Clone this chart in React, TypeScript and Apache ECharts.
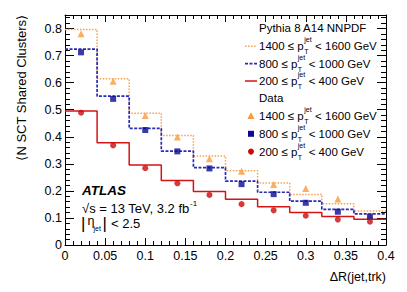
import React, { useEffect, useRef } from "react";
import * as echarts from "echarts";

// ---- data ----
const binLow = [0, 0.04, 0.08, 0.12, 0.16, 0.2, 0.24, 0.28, 0.32, 0.36];
const binHighEdge = 0.4;
const binCenters = [0.02, 0.06, 0.1, 0.14, 0.18, 0.22, 0.26, 0.3, 0.34, 0.38];

// Pythia 8 A14 NNPDF (histograms)
const mc1400 = [0.796, 0.614, 0.487, 0.405, 0.329, 0.274, 0.229, 0.187, 0.152, 0.126];
const mc800 = [0.724, 0.55, 0.431, 0.347, 0.286, 0.236, 0.195, 0.162, 0.132, 0.115];
const mc200 = [0.495, 0.378, 0.296, 0.238, 0.198, 0.169, 0.141, 0.12, 0.105, 0.095];

// Data (markers)
const data1400 = [0.781, 0.605, 0.479, 0.399, 0.319, 0.273, 0.224, 0.209, 0.17, 0.108];
const data800 = [0.712, 0.54, 0.425, 0.346, 0.283, 0.225, 0.188, 0.156, 0.123, 0.105];
const data200 = [0.489, 0.368, 0.284, 0.228, 0.185, 0.151, 0.128, 0.108, 0.094, 0.086];

const ptRanges = [
  ["1400", "1600"],
  ["800", "1000"],
  ["200", "400"],
];

const FONT = '"Liberation Sans", Arial, Helvetica, sans-serif';
const ORANGE_LINE = "#f7a24e";
const ORANGE_MK = "#fb9a3a";
const BLUE_LINE = "#2a2ab8";
const BLUE_MK = "#0a0a92";
const RED_LINE = "#d41414";
const RED_MK = "#cc0a0a";

function histPoints(vals: number[]) {
  const pts: number[][] = binLow.map((x, i) => [x, vals[i]]);
  pts.push([binHighEdge, vals[vals.length - 1]]);
  return pts;
}
function markerPoints(vals: number[]) {
  return binCenters.map((x, i) => [x, vals[i]]);
}

let measureCtx: CanvasRenderingContext2D | null = null;
function tw(text: string, size: number, weight = "normal", style = "normal") {
  if (!measureCtx) measureCtx = document.createElement("canvas").getContext("2d");
  if (!measureCtx) return text.length * size * 0.55;
  measureCtx.font = `${style} ${weight} ${size}px ${FONT}`;
  return measureCtx.measureText(text).width;
}

function txt(x: number, y: number, text: string, size: number, extra: any = {}) {
  return {
    type: "text",
    x,
    y,
    silent: true,
    style: {
      text,
      fontSize: size,
      fontFamily: FONT,
      fill: "#000",
      align: "left",
      verticalAlign: "middle",
      ...extra,
    },
  };
}

function ptLabel(x: number, y: number, lo: string, hi: string) {
  const size = 11.5;
  const small = 7;
  const s1 = `${lo} ≤ p`;
  const w1 = tw(s1, size);
  const wj = tw("jet", small);
  return [
    txt(x, y, s1, size),
    txt(x + w1 + 0.5, y - 6.5, "jet", small),
    txt(x + w1 + 0.5, y + 5.5, "T", small),
    txt(x + w1 + wj + 0.8, y, ` < ${hi} GeV`, size),
  ];
}

export default function App() {
  const ref = useRef<HTMLDivElement>(null);
  useEffect(() => {
    if (!ref.current) return;
    const chart = echarts.init(ref.current, null, { renderer: "svg" });

    const axisCommon = {
      axisLine: { show: true, onZero: false, lineStyle: { color: "#000", width: 1 } },
      splitLine: { show: false },
    };

    const legendX = 259;
    const rows = [28.3, 46.3, 63.6, 81, 98.3, 116.3, 133.8, 151.6];
    const lineStyles = [
      { stroke: ORANGE_LINE, lineWidth: 1.5, lineDash: [1.5, 1.5] },
      { stroke: BLUE_LINE, lineWidth: 1.7, lineDash: [3, 1.5] },
      { stroke: RED_LINE, lineWidth: 1.5 },
    ];
    const graphics: any[] = [];
    graphics.push(txt(legendX, rows[0], "Pythia 8 A14 NNPDF", 11.5));
    for (let i = 0; i < 3; i++) {
      graphics.push({
        type: "line",
        silent: true,
        shape: { x1: 245, y1: rows[1 + i], x2: 257, y2: rows[1 + i] },
        style: lineStyles[i],
      });
      graphics.push(...ptLabel(legendX, rows[1 + i], ptRanges[i][0], ptRanges[i][1]));
    }
    graphics.push(txt(legendX, rows[4], "Data", 11.5));
    const mx = 251;
    graphics.push({
      type: "polygon",
      silent: true,
      shape: { points: [[mx, rows[5] - 4], [mx - 3.6, rows[5] + 2.8], [mx + 3.6, rows[5] + 2.8]] },
      style: { fill: ORANGE_MK },
    });
    graphics.push({
      type: "rect",
      silent: true,
      shape: { x: mx - 3, y: rows[6] - 3, width: 6, height: 6 },
      style: { fill: BLUE_MK },
    });
    graphics.push({
      type: "circle",
      silent: true,
      shape: { cx: mx, cy: rows[7], r: 3 },
      style: { fill: RED_MK },
    });
    for (let i = 0; i < 3; i++) {
      graphics.push(...ptLabel(legendX, rows[5 + i], ptRanges[i][0], ptRanges[i][1]));
    }

    // ATLAS label block
    graphics.push(txt(82, 190, "ATLAS", 13.5, { fontWeight: "bold", fontStyle: "italic" }));
    const s2 = "√s = 13 TeV, 3.2 fb";
    graphics.push(txt(82, 208.5, s2, 13));
    graphics.push(txt(82 + tw(s2, 13) + 0.5, 203, "-1", 8));
    graphics.push(txt(81, 223.5, "|", 17));
    graphics.push(txt(87.5, 220.5, "η", 12.5));
    graphics.push(txt(93.5, 228.5, "jet", 7));
    graphics.push(txt(102.5, 223.5, "|", 17));
    graphics.push(txt(111, 223, "< 2.5", 13));

    // axis titles
    graphics.push(txt(386, 277, "ΔR(jet,trk)", 12.5, { align: "right" }));
    graphics.push({
      type: "text",
      x: 21,
      y: 15,
      rotation: Math.PI / 2,
      silent: true,
      style: {
        text: "⟨N SCT Shared Clusters⟩",
        fontSize: 13,
        fontFamily: FONT,
        fill: "#000",
        align: "right",
        verticalAlign: "middle",
      },
    });

    const histSeries = (vals: number[], ls: any) => ({
      type: "line",
      step: "end",
      data: histPoints(vals),
      symbol: "none",
      lineStyle: ls,
      z: 2,
    });
    const markSeries = (vals: number[], symbol: string, size: number, color: string) => ({
      type: "scatter",
      data: markerPoints(vals),
      symbol,
      symbolSize: size,
      itemStyle: { color },
      z: 3,
    });

    chart.setOption({
      animation: false,
      grid: { left: 65, right: 21, top: 15, bottom: 47 },
      xAxis: [
        {
          type: "value",
          min: 0,
          max: 0.4,
          interval: 0.05,
          position: "bottom",
          ...axisCommon,
          axisTick: { show: true, inside: true, length: 7, lineStyle: { color: "#000" } },
          minorTick: { show: true, splitNumber: 5, length: 4, lineStyle: { color: "#000" } },
          axisLabel: { fontSize: 12.5, fontFamily: FONT, color: "#000", margin: 4 },
        },
        {
          type: "value",
          min: 0,
          max: 0.4,
          interval: 0.05,
          position: "top",
          ...axisCommon,
          axisTick: { show: true, inside: true, length: 7, lineStyle: { color: "#000" } },
          minorTick: { show: true, splitNumber: 5, length: 4, lineStyle: { color: "#000" } },
          axisLabel: { show: false },
        },
      ],
      yAxis: [
        {
          type: "value",
          min: 0,
          max: 0.85,
          interval: 0.1,
          position: "left",
          ...axisCommon,
          axisTick: { show: true, inside: true, length: 9, lineStyle: { color: "#000" } },
          minorTick: { show: true, splitNumber: 5, length: 5, lineStyle: { color: "#000" } },
          axisLabel: {
            fontSize: 12.5,
            fontFamily: FONT,
            color: "#000",
            margin: 3,
            showMaxLabel: false,
          },
        },
        {
          type: "value",
          min: 0,
          max: 0.85,
          interval: 0.1,
          position: "right",
          ...axisCommon,
          axisTick: { show: true, inside: true, length: 9, lineStyle: { color: "#000" } },
          minorTick: { show: true, splitNumber: 5, length: 5, lineStyle: { color: "#000" } },
          axisLabel: { show: false },
        },
      ],
      series: [
        histSeries(mc1400, { color: ORANGE_LINE, width: 1.5, type: [1.5, 1.5] }),
        histSeries(mc800, { color: BLUE_LINE, width: 1.7, type: [3, 1.5] }),
        histSeries(mc200, { color: RED_LINE, width: 1.5, type: "solid" }),
        markSeries(data1400, "triangle", 7, ORANGE_MK),
        markSeries(data800, "rect", 6, BLUE_MK),
        markSeries(data200, "circle", 6, RED_MK),
      ],
      graphic: graphics,
    });
    return () => chart.dispose();
  }, []);
  return (
    <div
      ref={ref}
      style={{ position: "fixed", left: 0, top: 0, width: 407, height: 292, background: "#fff" }}
    />
  );
}
